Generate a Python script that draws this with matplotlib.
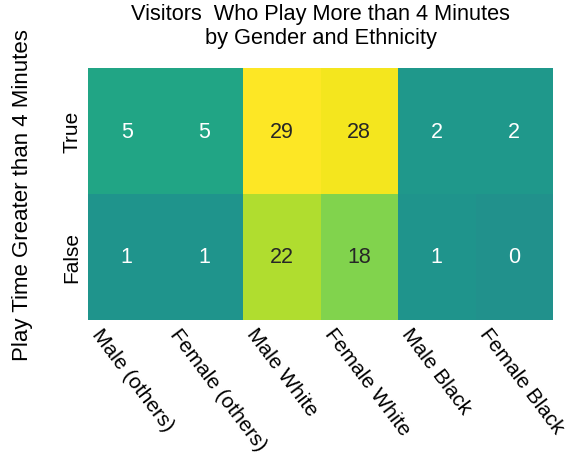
import numpy as np
import matplotlib
matplotlib.use('Agg')
import matplotlib.pyplot as plt
import seaborn as sns

# comptes par groupe : joue plus de 4 minutes (True) ou non (False)
groups = ['Male (others)', 'Female (others)', 'Male White',
          'Female White', 'Male Black', 'Female Black']
row_labels = ['True', 'False']
counts_true = [5, 5, 29, 28, 2, 2]
counts_false = [1, 1, 22, 18, 1, 0]

plt.rcParams['font.family'] = ['Liberation Sans', 'DejaVu Sans']

fig = plt.figure(figsize=(5.77, 4.6), dpi=100)
ax = fig.add_axes([88 / 577, 1 - 321 / 460, 465 / 577, 252 / 460])

table = np.array([counts_true, counts_false])
sns.heatmap(table, ax=ax, cmap='viridis', center=0, annot=True, fmt='d',
            cbar=False, xticklabels=groups, yticklabels=row_labels,
            annot_kws={'fontsize': 15.5})

# étiquettes placées au bord gauche de chaque case, comme sur l'original
ax.set_xticks(np.arange(len(groups)))
ax.set_xticklabels(groups, rotation=-53, ha='left')
ax.tick_params(length=0, labelsize=15, pad=5)
ax.tick_params(axis='x', pad=3)
plt.setp(ax.get_yticklabels(), rotation=90, va='center')
ax.set_ylabel('Play Time Greater than 4 Minutes', fontsize=16, labelpad=21)
ax.set_title('Visitors  Who Play More than 4 Minutes\nby Gender and Ethnicity',
             fontsize=15.7, pad=18)

fig.savefig('out.png', dpi=100)
